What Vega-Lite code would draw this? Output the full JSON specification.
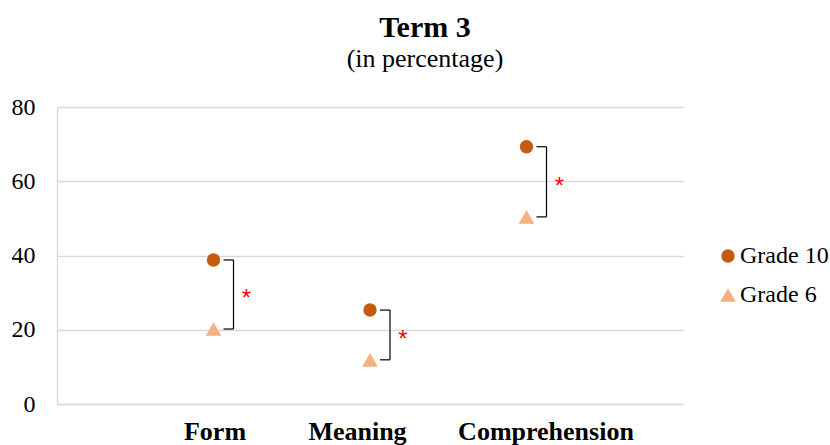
{
  "$schema": "https://vega.github.io/schema/vega-lite/v6.json",
  "width": 626,
  "height": 297,
  "autosize": {"type": "none"},
  "padding": {"left": 57, "top": 107, "right": 147, "bottom": 41},
  "background": "white",
  "title": {
    "text": "Term 3",
    "subtitle": "(in percentage)",
    "font": "Liberation Serif",
    "fontSize": 30,
    "fontWeight": "bold",
    "color": "#000000",
    "subtitleFont": "Liberation Serif",
    "subtitleFontSize": 26,
    "subtitleColor": "#000000",
    "subtitlePadding": 3,
    "anchor": "middle",
    "dx": 55,
    "offset": 23
  },
  "data": {
    "values": [
      {"category": "Form", "pos": 1, "grade": "Grade 10", "value": 38.8},
      {"category": "Form", "pos": 1, "grade": "Grade 6", "value": 20.2},
      {"category": "Meaning", "pos": 2, "grade": "Grade 10", "value": 25.3},
      {"category": "Meaning", "pos": 2, "grade": "Grade 6", "value": 11.9},
      {"category": "Comprehension", "pos": 3, "grade": "Grade 10", "value": 69.3},
      {"category": "Comprehension", "pos": 3, "grade": "Grade 6", "value": 50.4}
    ]
  },
  "config": {
    "view": {"stroke": null},
    "font": "Liberation Serif"
  },
  "encoding": {
    "x": {
      "field": "pos",
      "type": "quantitative",
      "scale": {"domain": [0, 4]},
      "axis": {
        "title": null,
        "values": [1, 2, 3],
        "labelExpr": "datum.value == 1 ? 'Form' : datum.value == 2 ? 'Meaning' : 'Comprehension'",
        "labelOffset": {"expr": "datum.value == 2 ? -13 : datum.value == 3 ? 19 : 1"},
        "labelFont": "Liberation Serif",
        "labelFontSize": 26,
        "labelFontWeight": "bold",
        "labelColor": "#000000",
        "labelPadding": 14,
        "ticks": false,
        "grid": false,
        "domainColor": "#d9d9d9",
        "domainWidth": 1.5
      }
    }
  },
  "layer": [
    {
      "mark": {"type": "rule", "color": "#000000", "strokeWidth": 1.2, "xOffset": 20},
      "encoding": {
        "y": {"aggregate": "max", "field": "value", "type": "quantitative"},
        "y2": {"aggregate": "min", "field": "value"},
        "detail": {"field": "category"}
      }
    },
    {
      "mark": {"type": "rule", "color": "#000000", "strokeWidth": 1.2, "xOffset": 10, "x2Offset": 20},
      "encoding": {
        "x2": {"field": "pos"},
        "y": {"field": "value", "type": "quantitative"}
      }
    },
    {
      "mark": {"type": "text", "color": "#ff0000", "fontSize": 24, "xOffset": 33, "yOffset": 5, "font": "Liberation Sans"},
      "encoding": {
        "y": {"aggregate": "mean", "field": "value", "type": "quantitative"},
        "detail": {"field": "category"},
        "text": {"value": "*"}
      }
    },
    {
      "mark": {"type": "point", "filled": true, "opacity": 1},
      "encoding": {
        "y": {
          "field": "value",
          "type": "quantitative",
          "scale": {"domain": [0, 80]},
          "axis": {
            "title": null,
            "values": [0, 20, 40, 60, 80],
            "labelFont": "Liberation Serif",
            "labelFontSize": 24,
            "labelColor": "#000000",
            "labelPadding": 22,
            "ticks": false,
            "gridColor": "#d9d9d9",
            "gridWidth": 1.5,
            "domainColor": "#d9d9d9",
            "domainWidth": 1.5
          }
        },
        "color": {
          "field": "grade",
          "type": "nominal",
          "scale": {"domain": ["Grade 10", "Grade 6"], "range": ["#c55a11", "#f4b183"]},
          "legend": {
            "title": null,
            "orient": "none",
            "legendX": 659,
            "legendY": 137,
            "labelFont": "Liberation Serif",
            "labelFontSize": 24,
            "labelColor": "#000000",
            "rowPadding": 15,
            "labelOffset": 0
          }
        },
        "shape": {
          "field": "grade",
          "type": "nominal",
          "scale": {"domain": ["Grade 10", "Grade 6"], "range": ["circle", "triangle-up"]}
        },
        "size": {
          "field": "grade",
          "type": "nominal",
          "scale": {"domain": ["Grade 10", "Grade 6"], "range": [180, 250]}
        }
      }
    }
  ]
}
